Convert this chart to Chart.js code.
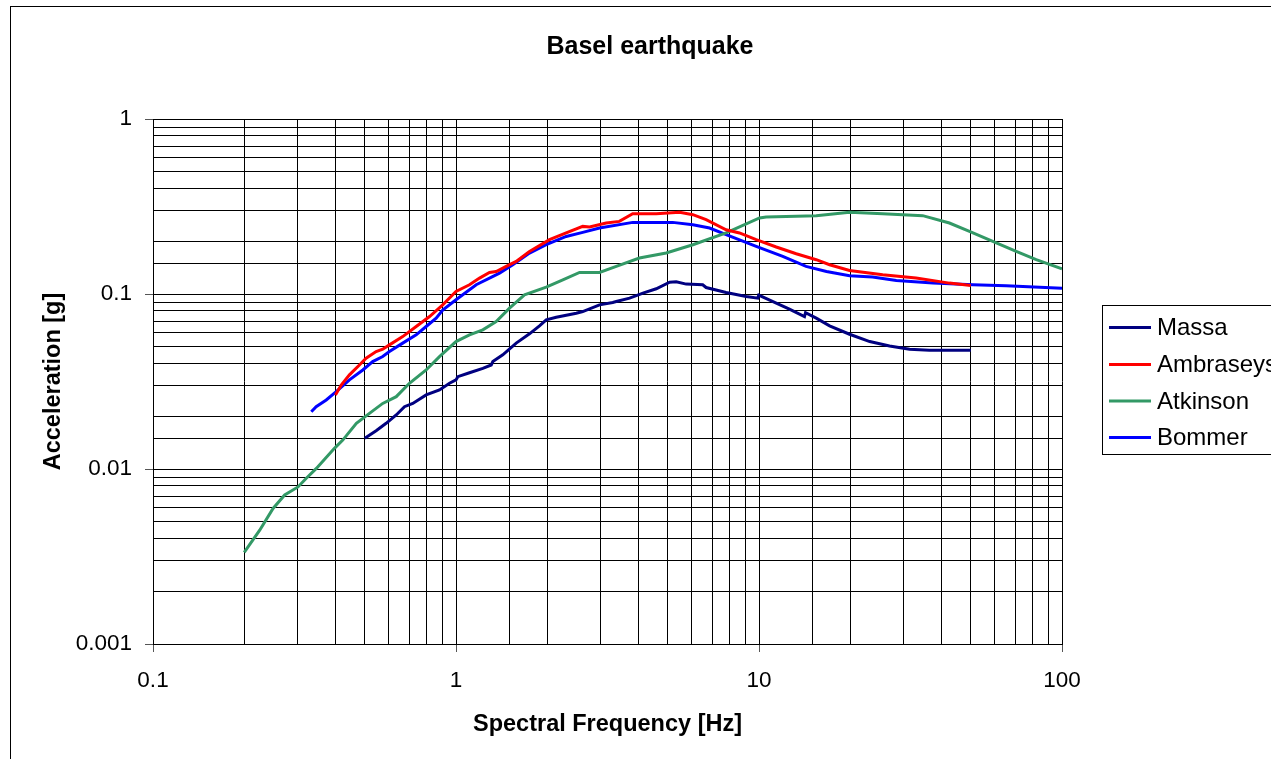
<!DOCTYPE html>
<html>
<head>
<meta charset="utf-8">
<title>Basel earthquake</title>
<script src="https://cdn.jsdelivr.net/npm/chart.js@4.4.1/dist/chart.umd.min.js"></script>
<style>
  body { margin: 0; background: #fff; }
  canvas { display: block; }
</style>
</head>
<body>
<canvas id="myChart" width="1271" height="759"></canvas>
<script>
// spectral frequency [Hz] / acceleration [g] per model
var massaFreq = [0.5, 0.545, 0.588, 0.635, 0.676, 0.72, 0.797, 0.882, 0.952, 1.0, 1.014, 1.108, 1.226, 1.307, 1.323, 1.427, 1.58, 1.748, 1.886, 1.985, 2.142, 2.494, 2.62, 2.976, 3.29, 3.38, 3.74, 4.14, 4.58, 5.07, 5.33, 5.75, 6.52, 6.69, 7.79, 9.07, 9.91, 9.98, 11.4, 12.6, 14.13, 14.24, 15.45, 17.1, 19.9, 23.2, 26.97, 31.4, 36.5, 50];
var massaAcc = [0.01497, 0.01655, 0.01824, 0.02035, 0.0227, 0.0237, 0.0265, 0.0283, 0.0309, 0.0323, 0.0337, 0.0355, 0.0376, 0.0393, 0.0411, 0.0449, 0.0524, 0.0592, 0.0658, 0.0712, 0.0737, 0.0777, 0.0794, 0.0867, 0.0894, 0.0906, 0.0947, 0.1012, 0.1071, 0.1169, 0.1174, 0.1139, 0.1129, 0.1089, 0.102, 0.0968, 0.0947, 0.0986, 0.0887, 0.0819, 0.0743, 0.0783, 0.0728, 0.0658, 0.0589, 0.0535, 0.0505, 0.0484, 0.0477, 0.0477];

var ambraseysFreq = [0.4, 0.418, 0.445, 0.48, 0.505, 0.545, 0.573, 0.603, 0.667, 0.739, 0.818, 0.904, 1.0, 1.108, 1.196, 1.29, 1.357, 1.464, 1.58, 1.748, 2.035, 2.31, 2.62, 2.76, 3.13, 3.46, 3.83, 4.58, 5.47, 6.05, 6.69, 7.79, 8.62, 9.79, 11.4, 13.27, 15.45, 17.1, 19.9, 25.6, 33.0, 42.5, 50];
var ambraseysAcc = [0.0265, 0.0302, 0.0345, 0.0393, 0.043, 0.0469, 0.0484, 0.0512, 0.0571, 0.0652, 0.0743, 0.0867, 0.1033, 0.1129, 0.1233, 0.1328, 0.1345, 0.1437, 0.1535, 0.175, 0.2043, 0.2232, 0.2434, 0.2415, 0.2545, 0.26, 0.2877, 0.2877, 0.2928, 0.284, 0.2659, 0.2329, 0.2232, 0.2043, 0.1856, 0.1699, 0.157, 0.1469, 0.1363, 0.1288, 0.1233, 0.1154, 0.1118];

var atkinsonFreq = [0.2, 0.225, 0.249, 0.272, 0.301, 0.32, 0.346, 0.397, 0.423, 0.469, 0.518, 0.573, 0.635, 0.702, 0.797, 0.882, 1.0, 1.108, 1.226, 1.357, 1.502, 1.683, 1.985, 2.252, 2.557, 2.976, 3.38, 4.03, 4.94, 6.05, 7.79, 10.04, 10.56, 15.45, 19.9, 25.6, 34.7, 42.5, 49.5, 59.1, 70.6, 82.2, 100];
var atkinsonAcc = [0.00334, 0.00447, 0.00595, 0.0071, 0.0079, 0.00883, 0.01008, 0.01312, 0.01463, 0.01824, 0.0208, 0.0237, 0.0259, 0.0309, 0.0368, 0.0439, 0.0535, 0.0584, 0.0624, 0.0696, 0.0831, 0.099, 0.1095, 0.1206, 0.1328, 0.1328, 0.1437, 0.1605, 0.1714, 0.1912, 0.2232, 0.272, 0.2755, 0.2803, 0.2928, 0.2878, 0.2803, 0.2545, 0.228, 0.1998, 0.175, 0.157, 0.1394];

var bommerFreq = [0.333, 0.3455, 0.373, 0.4024, 0.445, 0.4925, 0.531, 0.573, 0.603, 0.667, 0.739, 0.797, 0.86, 0.904, 1.0, 1.166, 1.392, 1.54, 1.748, 1.985, 2.31, 2.62, 2.976, 3.83, 5.19, 6.05, 6.87, 7.79, 9.79, 11.98, 14.3, 16.7, 19.9, 23.7, 28.4, 37.5, 50.8, 65.4, 100];
var bommerAcc = [0.02126, 0.0227, 0.0248, 0.0277, 0.0323, 0.0368, 0.0411, 0.0439, 0.0469, 0.0524, 0.0584, 0.0652, 0.0728, 0.081, 0.0927, 0.1129, 0.1317, 0.1469, 0.1714, 0.1912, 0.2133, 0.2249, 0.2383, 0.2566, 0.2566, 0.2489, 0.2383, 0.2183, 0.187, 0.164, 0.1437, 0.1345, 0.1271, 0.125, 0.1195, 0.1154, 0.1129, 0.1114, 0.1078];

var FONT = '"Liberation Sans", Arial, sans-serif';

function pts(xs, ys) {
    return xs.map(function(x, i) { return {x: x, y: ys[i]}; });
}

function isDecade(v) {
    var l = Math.log10(v);
    return Math.abs(l - Math.round(l)) < 1e-6;
}

function decadeLabel(v) {
    return isDecade(v) ? String(Number(v.toPrecision(3))) : '';
}

function series(label, xs, ys, color) {
    return {
        label: label,
        data: pts(xs, ys),
        borderColor: color,
        backgroundColor: color,
        borderWidth: 3,
        pointRadius: 0,
        showLine: true,
        tension: 0
    };
}

// frame, title and the boxed legend on the right
var extras = {
    id: 'extras',
    beforeDraw: function(chart) {
        var c = chart.ctx;
        c.save();
        c.fillStyle = '#fff';
        c.fillRect(0, 0, chart.width, chart.height);
        c.restore();
    },
    afterDraw: function(chart) {
        var c = chart.ctx;
        c.save();
        c.strokeStyle = '#000';
        c.lineWidth = 1;
        c.strokeRect(10.5, 6.5, 1400, 900);

        c.fillStyle = '#000';
        c.font = 'bold 25px ' + FONT;
        c.textAlign = 'center';
        c.textBaseline = 'alphabetic';
        c.fillText('Basel earthquake', 650, 54);

        c.fillStyle = '#fff';
        c.fillRect(1102.5, 305.5, 300, 149);
        c.strokeRect(1102.5, 305.5, 300, 149);
        var rows = [327.5, 364.5, 401, 437.5];
        c.font = '24px ' + FONT;
        c.textAlign = 'left';
        c.textBaseline = 'middle';
        chart.data.datasets.forEach(function(ds, i) {
            c.strokeStyle = ds.borderColor;
            c.lineWidth = 3;
            c.beginPath();
            c.moveTo(1109, rows[i]);
            c.lineTo(1151, rows[i]);
            c.stroke();
            c.fillStyle = '#000';
            c.fillText(ds.label, 1157, rows[i] + 1);
        });
        c.restore();
    }
};

var ctx = document.getElementById('myChart');
var myChart = new Chart(ctx, {
    type: 'scatter',
    data: {
        datasets: [
            series('Massa', massaFreq, massaAcc, '#000080'),
            series('Ambraseys', ambraseysFreq, ambraseysAcc, '#FF0000'),
            series('Atkinson', atkinsonFreq, atkinsonAcc, '#339966'),
            series('Bommer', bommerFreq, bommerAcc, '#0000FF')
        ]
    },
    options: {
        responsive: false,
        animation: false,
        layout: { padding: { top: 119, right: 209, bottom: 0, left: 0 } },
        plugins: {
            legend: { display: false },
            title: { display: false },
            tooltip: { enabled: false }
        },
        scales: {
            x: {
                type: 'logarithmic',
                position: 'bottom',
                min: 0.1,
                max: 100,
                afterFit: function(scale) { scale.height = 115; },
                ticks: {
                    autoSkip: false,
                    maxRotation: 0,
                    padding: 15,
                    color: '#000',
                    font: { family: FONT, size: 22.5 },
                    callback: decadeLabel
                },
                grid: {
                    color: '#000',
                    lineWidth: 1,
                    tickLength: 8,
                    tickColor: function(c) { return c.tick && isDecade(c.tick.value) ? '#555' : 'rgba(0,0,0,0)'; }
                },
                border: { color: '#000', width: 1 },
                title: {
                    display: true,
                    text: 'Spectral Frequency [Hz]',
                    color: '#000',
                    font: { family: FONT, size: 23.5, weight: 'bold' },
                    padding: { top: 0, bottom: 20 }
                }
            },
            y: {
                type: 'logarithmic',
                position: 'left',
                min: 0.001,
                max: 1,
                afterFit: function(scale) { scale.width = 153; },
                ticks: {
                    autoSkip: false,
                    padding: 13,
                    color: '#000',
                    font: { family: FONT, size: 22.5 },
                    callback: decadeLabel
                },
                grid: {
                    color: '#000',
                    lineWidth: 1,
                    tickLength: 8,
                    tickColor: function(c) { return c.tick && isDecade(c.tick.value) ? '#555' : 'rgba(0,0,0,0)'; }
                },
                border: { color: '#000', width: 1 },
                title: {
                    display: true,
                    text: 'Acceleration [g]',
                    color: '#000',
                    font: { family: FONT, size: 23.5, weight: 'bold' },
                    padding: { top: 39, bottom: 39 }
                }
            }
        }
    },
    plugins: [extras]
});
</script>
</body>
</html>
